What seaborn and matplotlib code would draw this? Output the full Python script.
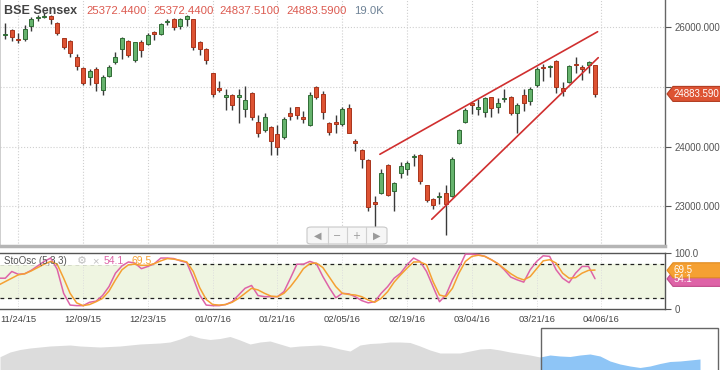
import numpy as np
import pandas as pd
import matplotlib
matplotlib.use("Agg")
import matplotlib.pyplot as plt
from matplotlib.patches import FancyBboxPatch, Polygon, Rectangle
import seaborn as sns

# -----------------------------
# Data (daily candles, BSE Sensex)
# -----------------------------
opens = [25868, 25958, 25808, 25801, 26025, 26155, 26170, 26193, 26081, 25818,
         25768, 25499, 25314, 25174, 25303, 24950, 25185, 25420, 25633, 25779,
         25448, 25756, 25728, 25924, 25896, 26098, 26137, 26025, 26143, 26137,
         25762, 25639, 25230, 24983, 24827, 24872, 24838, 24625, 24905, 24418,
         24278, 24334, 24205, 24155, 24558, 24659, 24502, 24368, 24995, 24883,
         24401, 24412, 24379, 24642, 24088, 23942, 23774, 23074, 23224, 23695,
         23258, 23550, 23617, 23819, 23858, 23350, 23118, 23147, 23225, 23169,
         24065, 24418, 24726, 24636, 24580, 24827, 24659, 24793, 24838, 24569,
         24871, 24760, 25029, 25342, 25331, 25431, 24983, 25085, 25387, 25331,
         25364, 25372.44]
highs = [26070, 25969, 25913, 26042, 26171, 26210, 26238, 26210, 26092, 25829,
         25790, 25555, 25331, 25297, 25331, 25202, 25364, 25594, 25846, 25796,
         25762, 25790, 25902, 25941, 26081, 26137, 26154, 26154, 26210, 26148,
         25773, 25650, 25241, 25107, 24967, 24883, 24967, 25017, 24922, 24530,
         24569, 24345, 24362, 24491, 24659, 24670, 24603, 24916, 25017, 24939,
         24418, 24530, 24670, 24715, 24121, 23953, 23785, 23166, 23617, 23707,
         23410, 23735, 23752, 23875, 23869, 23361, 23135, 23236, 23354, 23830,
         24300, 24642, 24748, 24793, 24827, 24838, 24815, 24960, 24849, 24726,
         24960, 24995, 25342, 25387, 25370, 25454, 25085, 25370, 25499, 25370,
         25437, 25372.44]
lows = [25801, 25779, 25734, 25779, 25947, 26115, 26154, 26059, 25880, 25633,
        25499, 25286, 25028, 25034, 24939, 24872, 25163, 25387, 25465, 25499,
        25420, 25499, 25711, 25790, 25880, 26048, 25958, 25969, 26031, 25622,
        25538, 25381, 24838, 24916, 24614, 24614, 24402, 24491, 24446, 24155,
        24250, 23853, 23864, 24121, 24446, 24468, 24401, 24345, 24804, 24468,
        24194, 24233, 24345, 24222, 23931, 23634, 22912, 22599, 23202, 23169,
        22923, 23466, 23522, 23673, 23371, 23068, 22951, 23034, 22515, 23146,
        24043, 24401, 24547, 24524, 24491, 24491, 24558, 24748, 24536, 24233,
        24603, 24692, 25006, 25107, 25163, 24905, 24855, 25073, 25236, 25118,
        25236, 24837.51]
closes = [25896, 25846, 25795, 25969, 26143, 26171, 26185, 26148, 25913, 25667,
          25566, 25353, 25062, 25269, 25073, 25163, 25342, 25499, 25824, 25538,
          25751, 25622, 25874, 25885, 26053, 26109, 26003, 26137, 26193, 25667,
          25633, 25454, 24883, 24950, 24861, 24704, 24872, 24782, 24491, 24222,
          24491, 24099, 23987, 24457, 24513, 24530, 24468, 24871, 24827, 24580,
          24250, 24379, 24625, 24233, 24054, 23797, 22979, 23029, 23561, 23186,
          23393, 23673, 23729, 23841, 23427, 23102, 23018, 23169, 23034, 23785,
          24278, 24614, 24692, 24659, 24815, 24648, 24737, 24815, 24569, 24703,
          24726, 24961, 25298, 25320, 25353, 25006, 24939, 25353, 25364, 25297,
          25420, 24883.59]
last_volume = "19.0K"

date_ticks = [2, 12, 22, 32, 42, 52, 62, 72, 82, 92]
date_labels = ["11/24/15", "12/09/15", "12/23/15", "01/07/16", "01/21/16",
               "02/05/16", "02/19/16", "03/04/16", "03/21/16", "04/06/16"]
price_ticks = [23000, 24000, 25000, 26000]

# rising wedge drawn on the chart (candle index, price)
upper_trend_x = [57.8, 91.4]
upper_trend_y = [23870, 25929]
lower_trend_x = [65.8, 91.5]
lower_trend_y = [22778, 25493]

# stochastic oscillator (5,3,3), starts one bar before the first candle
sto_k = [55, 55, 67, 62, 63, 69, 77, 85, 91, 71, 28, 7, 6, 6, 12, 14, 24, 40, 64,
         77, 84, 82, 72, 76, 81, 91, 91, 90, 86, 83, 55, 25, 7, 6, 6, 8, 13, 25,
         37, 42, 24, 22, 22, 22, 31, 55, 80, 80, 85, 81, 58, 38, 20, 28, 27, 22,
         15, 11, 13, 28, 40, 55, 64, 79, 91, 85, 67, 40, 13, 25, 52, 73, 98, 98,
         97, 94, 88, 81, 70, 57, 52, 48, 70, 85, 95, 94, 70, 55, 47, 64, 76, 76,
         54.1]
sto_d = [43, 49, 55, 61, 63, 68, 74, 80, 85, 80, 55, 28, 11, 6, 8, 13, 19, 32, 52,
         70, 79, 80, 78, 78, 81, 86, 90, 89, 87, 84, 67, 38, 17, 8, 7, 8, 12, 19,
         28, 37, 34, 28, 23, 22, 28, 40, 55, 72, 81, 82, 74, 57, 40, 28, 26, 25,
         22, 16, 12, 19, 31, 48, 61, 73, 84, 84, 79, 49, 25, 22, 37, 64, 85, 94,
         96, 94, 88, 81, 72, 63, 56, 52, 58, 72, 86, 88, 82, 64, 55, 56, 64, 69,
         69.5]

# navigator (long history, relative level)
nav_level = [13.3, 18, 20.5, 22, 23, 24, 24.5, 25, 24, 23.5, 23, 23.5, 24, 25,
             26, 26.5, 27, 28, 31, 35, 32, 30.5, 31.5, 33.5, 30, 26, 28, 29, 26,
             23, 24, 24.5, 25, 23.5, 21, 19, 25, 26.5, 27, 28, 28, 27.5, 24, 20,
             17, 17, 17, 19, 21, 21.5, 20, 18, 16.5, 15, 13, 15, 14, 13.5, 15, 16,
             14, 9, 6, 4, 2.5, 4, 6.5, 8.5, 9, 10, 11]
nav_sel_start = 54

# -----------------------------
# Styling
# -----------------------------
W, H = 720, 370
def fx(px):
    return px / W
def fy(py):
    return 1 - py / H

sns.set_theme(style="white")
plt.rcParams["font.family"] = ["Liberation Sans", "DejaVu Sans"]

RED = "#dd5333"
RED_EDGE = "#a8341c"
GREEN = "#66b36d"
GREEN_EDGE = "#2f6b35"
PINK = "#de63a7"
ORANGE = "#f5a032"
AXIS_TXT = "#555555"

fig = plt.figure(figsize=(7.2, 3.7), dpi=100)
ax = fig.add_axes([0, fy(246), fx(665), 246 / H])
ax_s = fig.add_axes([0, fy(309), fx(665), 56 / H])
ax_n = fig.add_axes([0, 0, 1, 48 / H])

# -----------------------------
# Candles
# -----------------------------
df = pd.DataFrame({"open": opens, "high": highs, "low": lows, "close": closes})
df["idx"] = np.arange(len(df))
up = df["close"] >= df["open"]
body_bottom = df[["open", "close"]].min(axis=1)
body_h = (df["close"] - df["open"]).abs().clip(lower=18)

ax.vlines(df["idx"], df["low"], df["high"], color="#3a3a3a", lw=1, zorder=2)
ax.bar(df["idx"][up], body_h[up], bottom=body_bottom[up], width=0.62,
       color=GREEN, edgecolor=GREEN_EDGE, lw=0.7, zorder=3)
ax.bar(df["idx"][~up], body_h[~up], bottom=body_bottom[~up], width=0.62,
       color=RED, edgecolor=RED_EDGE, lw=0.7, zorder=3)

ax.plot(upper_trend_x, upper_trend_y, color="#d02f2f", lw=1.2, zorder=4)
ax.plot(lower_trend_x, lower_trend_y, color="#d02f2f", lw=1.2, zorder=4)

ax.set_xlim(-0.82, 101.8)
ax.set_ylim(22329, 26462)
ax.set_xticks(date_ticks)
ax.set_yticks(price_ticks)
ax.yaxis.tick_right()
# the 25000 label sits behind the last-price tag
ax.set_yticklabels([f"{p:.3f}" if p != 25000 else "" for p in price_ticks])
ax.tick_params(axis="x", length=0, labelbottom=False)
ax.tick_params(axis="y", direction="out", length=4, width=0.8, color="#555",
               labelsize=7, labelcolor=AXIS_TXT, pad=3)
ax.grid(True, ls=":", color="#cfcfcf", lw=0.8)
ax.spines["top"].set_visible(False)
ax.spines["left"].set_color("#c8c8c8")
ax.spines["bottom"].set_color("#b5b5b5")
ax.spines["bottom"].set_linewidth(2.5)
ax.spines["right"].set_color("#666")
ax.spines["right"].set_linewidth(1)

# -----------------------------
# Stochastic panel
# -----------------------------
sto = pd.DataFrame({"idx": np.arange(-1, len(sto_k) - 1), "K": sto_k, "D": sto_d})
ax_s.axhspan(20, 80, color="#eff5e1", zorder=0)
ax_s.axhline(80, color="#222", ls=(0, (3, 3)), lw=0.9, zorder=1)
ax_s.axhline(20, color="#222", ls=(0, (3, 3)), lw=0.9, zorder=1)
# legend strip hides the dashed line behind the indicator caption
ax_s.add_patch(Rectangle((0, 0.79), 155 / 665, 0.21, transform=ax_s.transAxes,
                         facecolor="white", edgecolor="none", zorder=2))
sns.lineplot(data=sto, x="idx", y="K", color=PINK, lw=1.1, ax=ax_s, zorder=3)
sns.lineplot(data=sto, x="idx", y="D", color=ORANGE, lw=1.1, ax=ax_s, zorder=4)
ax_s.set_xlim(-0.82, 101.8)
ax_s.set_ylim(0, 100)
ax_s.set_xlabel("")
ax_s.set_ylabel("")
ax_s.set_xticks(date_ticks)
ax_s.set_xticklabels(date_labels)
ax_s.set_yticks([0, 100])
ax_s.set_yticklabels(["0", "100.0"])
ax_s.yaxis.tick_right()
ax_s.tick_params(axis="x", direction="out", length=3, width=0.8, color="#555",
                 labelsize=6.8, labelcolor="#444", pad=1)
ax_s.tick_params(axis="y", direction="out", length=4, width=0.8, color="#555",
                 labelsize=7, labelcolor=AXIS_TXT, pad=3)
ax_s.grid(True, axis="x", ls=":", color="#dddddd", lw=0.7)
ax_s.spines["left"].set_visible(False)
for s in ["top", "bottom", "right"]:
    ax_s.spines[s].set_color("#555")
    ax_s.spines[s].set_linewidth(1)

# -----------------------------
# Navigator
# -----------------------------
nav_x = np.arange(len(nav_level))
nav = np.array(nav_level)
ax_n.fill_between(nav_x[:nav_sel_start + 1], nav[:nav_sel_start + 1], color="#dcdcdc", lw=0)
ax_n.fill_between(nav_x[nav_sel_start:], nav[nav_sel_start:], color="#8ec5f6", lw=0)
ax_n.add_patch(Rectangle((54.1, -1), 17.7, 43, fill=False, edgecolor="#666", lw=1))
ax_n.set_xlim(0, 72)
ax_n.set_ylim(0, 48)
ax_n.axis("off")

# -----------------------------
# Header and labels
# -----------------------------
fig.text(fx(4), fy(11), "BSE Sensex", fontsize=9, fontweight="bold", color="#444", va="center")
hdr = [opens[-1], highs[-1], lows[-1], closes[-1]]
hdr_x = [86, 153, 219, 286]
for v, x in zip(hdr, hdr_x):
    fig.text(fx(x), fy(11), f"{v:.4f}", fontsize=8.2, color="#dc5a50", va="center")
fig.text(fx(354), fy(11), last_volume, fontsize=8.2, color="#6e8296", va="center")

fig.text(fx(3.5), fy(261), "StoOsc (5,3,3)", fontsize=7, color="#555", va="center")
fig.text(fx(77), fy(261), "\u2699", fontsize=8, color="#c0c0c0", va="center",
         family=["DejaVu Sans"])
fig.text(fx(92), fy(261), "\u00d7", fontsize=8, color="#c0c0c0", va="center")
fig.text(fx(104), fy(261), f"{sto_k[-1]:.1f}", fontsize=7.5, color=PINK, va="center")
fig.text(fx(131), fy(261), f"{sto_d[-1]:.1f}", fontsize=7.5, color=ORANGE, va="center")

# price tag on the right axis
def tag(yc, text, color, edge):
    pts = [(fx(667), fy(yc)), (fx(673), fy(yc - 7.5)), (fx(721), fy(yc - 7.5)),
           (fx(721), fy(yc + 7.5)), (fx(673), fy(yc + 7.5))]
    fig.add_artist(Polygon(pts, closed=True, facecolor=color, edgecolor=edge,
                           lw=0.8, transform=fig.transFigure))
    fig.text(fx(674), fy(yc), text, fontsize=7, color="white", va="center")

price_to_py = lambda p: 27.5 + (26000 - p) / 1000 * 59.5
sto_to_py = lambda v: 309 - v / 100 * 55.7
tag(price_to_py(closes[-1]), f"{closes[-1]:.3f}", "#dd5333", "#b23d22")
tag(sto_to_py(sto_k[-1]), f"{sto_k[-1]:.1f}", PINK, "#c04a8a")
tag(sto_to_py(sto_d[-1]), f"{sto_d[-1]:.1f}", ORANGE, "#e08a20")

# zoom / scroll buttons
fig.add_artist(FancyBboxPatch((fx(307), fy(244)), fx(80), 17 / H,
                              boxstyle="round,pad=0,rounding_size=0.006",
                              facecolor="#f6f6f6", edgecolor="#c8c8c8", lw=0.8,
                              transform=fig.transFigure))
for sx in [328, 347, 366]:
    fig.add_artist(plt.Line2D([fx(sx), fx(sx)], [fy(244), fy(227)], color="#d0d0d0",
                              lw=0.8, transform=fig.transFigure))
for bx, sym in zip([317.5, 337.5, 356.5, 376.5], ["\u25c0", "\u2212", "+", "\u25b6"]):
    fig.text(fx(bx), fy(235.5), sym, fontsize=7, color="#9a9a9a", ha="center", va="center",
             family=["DejaVu Sans"])

fig.savefig("out.png", dpi=100)
